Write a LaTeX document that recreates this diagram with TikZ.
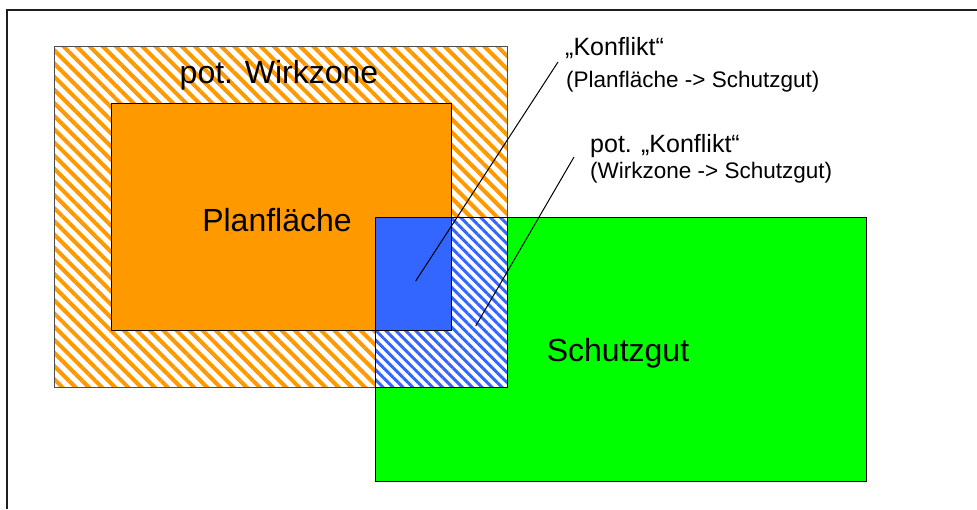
\documentclass[tikz,border=0pt]{standalone}
\usepackage{fontspec}
\setmainfont{Liberation Sans}
\usetikzlibrary{patterns.meta}
\definecolor{orng}{RGB}{255,153,0}
\definecolor{blu}{RGB}{51,102,255}
\definecolor{grn}{RGB}{0,255,0}
\definecolor{frm}{RGB}{30,30,30}
\tikzset{
  region/.style={draw=black, line width=1pt, inner sep=0pt, outer sep=0pt, anchor=north west},
  orhatch/.style={pattern={Lines[angle=-45,distance=9.3pt,line width=4pt]}, pattern color=orng},
  bluhatch/.style={pattern={Lines[angle=-45,distance=7pt,line width=3pt]}, pattern color=blu},
  bigtext/.style={font=\fontsize{32}{38}\selectfont},
  labA/.style={font=\fontsize{25}{30}\selectfont, anchor=base west, inner sep=0pt},
  labB/.style={font=\fontsize{22.5}{27}\selectfont, anchor=base west, inner sep=0pt},
  leader/.style={draw=black, line width=1pt},
}
\begin{document}
\begin{tikzpicture}[x=1pt,y=-1pt]
\useasboundingbox (0,0) rectangle (977,509);
% frame (top and left edges)
\coordinate (fTR) at (977,10);
\coordinate (fTL) at (7,10);
\coordinate (fBL) at (7,509);
\draw[frm, line width=2pt] (fTR) -- (fTL) -- (fBL);
% Wirkzone
\node[region, draw=black!70, fill=white, minimum width=453pt, minimum height=341pt] (wz) at (54,46) {};
\node[region, draw=black!70, orhatch, minimum width=453pt, minimum height=341pt] at (54,46) {};
% Planflaeche
\node[region, fill=orng, minimum width=340pt, minimum height=227pt] (pf) at (111,103) {};
% Schutzgut
\node[region, fill=grn, minimum width=491pt, minimum height=264pt] (sg) at (375,217) {};
% potential conflict zone
\node[region, fill=white, minimum width=132pt, minimum height=170pt] (pk) at (375,217) {};
\node[region, bluhatch, minimum width=132pt, minimum height=170pt] at (375,217) {};
% conflict zone
\node[region, fill=blu, minimum width=76pt, minimum height=113pt] (kf) at (375,217) {};
% texts
\node[bigtext] (twz) at (279,75) {pot. Wirkzone};
\node[bigtext] (tpf) at (277,220) {Planfläche};
\node[bigtext] (tsg) at (618,353) {Schutzgut};
\node[labA] (k1) at (565,55) {„Konflikt“};
\node[labB] (k1b) at (566,87) {(Planfläche -> Schutzgut)};
\node[labA] (k2) at (590,152) {pot. „Konflikt“};
\node[labB] (k2b) at (590,178) {(Wirkzone -> Schutzgut)};
% leader lines
\coordinate (l1top) at (558,62);
\coordinate (l1bot) at (415.7,281);
\coordinate (l2top) at (574,157);
\coordinate (l2bot) at (475.7,326);
\draw[leader] (l1top) -- (l1bot);
\draw[leader] (l2top) -- (l2bot);
\end{tikzpicture}
\end{document}
